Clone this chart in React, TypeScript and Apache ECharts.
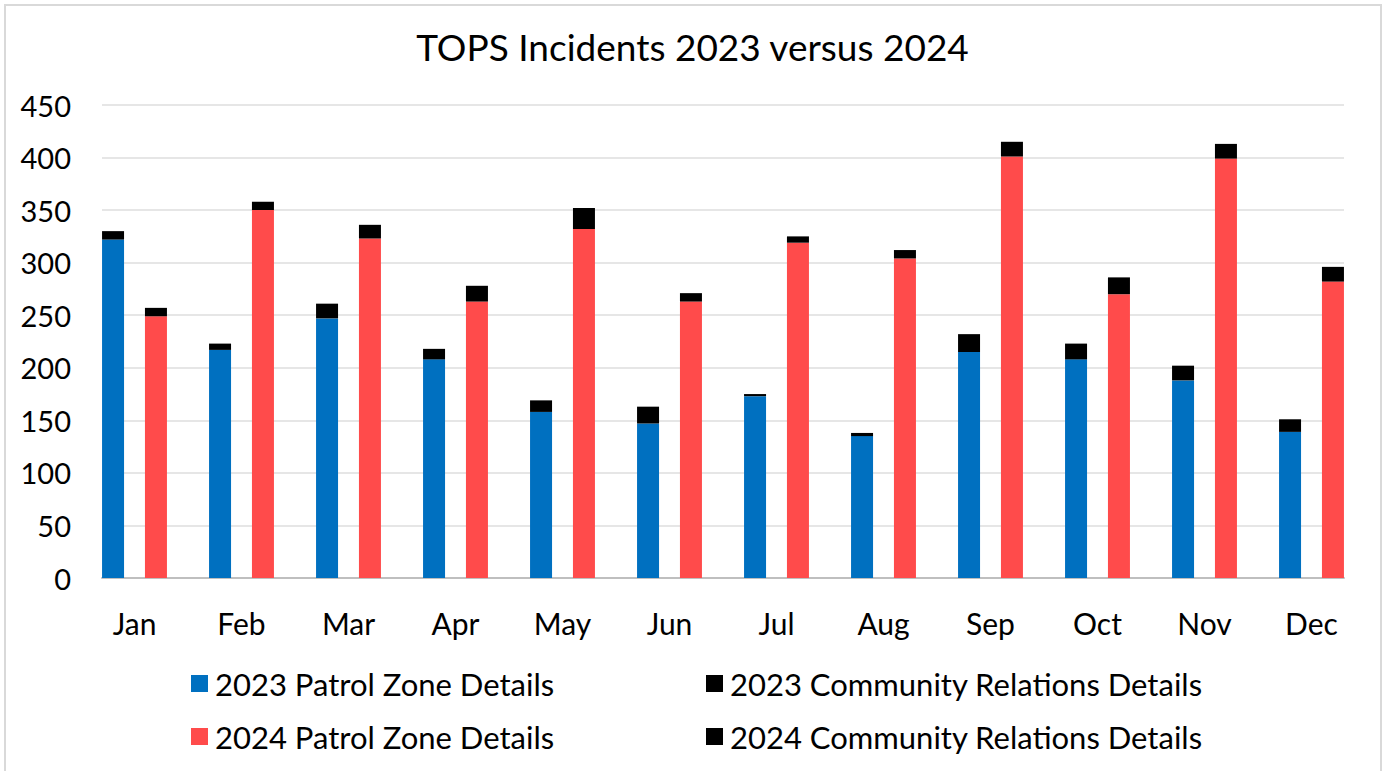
import React, { useEffect, useRef } from "react";
import * as echarts from "echarts";

const months = ["Jan", "Feb", "Mar", "Apr", "May", "Jun", "Jul", "Aug", "Sep", "Oct", "Nov", "Dec"];
const patrol2023 = [322, 217, 247, 208, 158, 147, 173, 135, 215, 208, 188, 139];
const community2023 = [8, 6, 14, 10, 11, 16, 2, 3, 17, 15, 14, 12];
const patrol2024 = [249, 350, 323, 263, 332, 263, 319, 304, 401, 270, 399, 282];
const community2024 = [8, 8, 13, 15, 20, 8, 6, 8, 14, 16, 14, 14];
const yTicks = { min: 0, max: 450, interval: 50 };

const FONT = "Lato, 'Open Sans', sans-serif";

export default function App() {
  const ref = useRef<HTMLDivElement>(null);
  useEffect(() => {
    if (!ref.current) return;
    const chart = echarts.init(ref.current, undefined, { renderer: "svg" });
    const names = [
      "2023 Patrol Zone Details",
      "2023 Community Relations Details",
      "2024 Patrol Zone Details",
      "2024 Community Relations Details",
    ];
    const legendBase = {
      icon: "rect",
      itemWidth: 17,
      itemHeight: 17,
      itemGap: 0,
      selectedMode: false,
      textStyle: { fontFamily: FONT, fontSize: 31, color: "#000", padding: [0, 0, 0, 2] },
    };
    chart.setOption({
      animation: false,
      backgroundColor: "#fff",
      title: {
        text: "TOPS Incidents 2023 versus 2024",
        left: "center",
        top: 23,
        textStyle: { fontFamily: FONT, fontSize: 37, fontWeight: "normal", color: "#000" },
      },
      legend: [
        { ...legendBase, data: [names[0]], left: 186, top: 663 },
        { ...legendBase, data: [names[1]], left: 701, top: 663 },
        { ...legendBase, data: [names[2]], left: 186, top: 716 },
        { ...legendBase, data: [names[3]], left: 701, top: 716 },
      ],
      grid: [
        { left: 81, width: 1284, top: 105, bottom: 193, containLabel: false },
        { left: 102, width: 1242, top: 105, bottom: 193, containLabel: false },
      ],
      xAxis: [
        {
          type: "category",
          gridIndex: 0,
          data: months,
          axisLine: { show: false },
          axisTick: { show: false },
          axisLabel: { fontFamily: FONT, fontSize: 30, color: "#000", margin: 30 },
        },
        {
          type: "value",
          gridIndex: 1,
          min: 0,
          max: 1,
          axisLine: { show: true, lineStyle: { color: "#bfbfbf", width: 2 } },
          axisTick: { show: false },
          axisLabel: { show: false },
          splitLine: { show: false },
        },
      ],
      yAxis: [
        {
          type: "value",
          gridIndex: 0,
          ...yTicks,
          axisLabel: { show: false },
          axisLine: { show: false },
          axisTick: { show: false },
          splitLine: { show: false },
        },
        {
          type: "value",
          gridIndex: 1,
          ...yTicks,
          axisLine: { show: false },
          axisTick: { show: false },
          axisLabel: { fontFamily: FONT, fontSize: 29, color: "#000", margin: 31 },
          splitLine: { show: true, lineStyle: { color: "#e6e6e6", width: 2 } },
        },
      ],
      series: [
        {
          name: names[0],
          type: "bar",
          stack: "y2023",
          data: patrol2023,
          barWidth: 22,
          barGap: "95%",
          itemStyle: { color: "#0070C0" },
        },
        {
          name: names[1],
          type: "bar",
          stack: "y2023",
          data: community2023,
          barWidth: 22,
          barGap: "95%",
          itemStyle: { color: "#000000" },
        },
        {
          name: names[2],
          type: "bar",
          stack: "y2024",
          data: patrol2024,
          barWidth: 22,
          barGap: "95%",
          itemStyle: { color: "#FF4B4B" },
        },
        {
          name: names[3],
          type: "bar",
          stack: "y2024",
          data: community2024,
          barWidth: 22,
          barGap: "95%",
          itemStyle: { color: "#000000" },
        },
      ],
    });
    return () => chart.dispose();
  }, []);
  return (
    <div
      style={{
        position: "fixed",
        left: 0,
        top: 0,
        width: 1385,
        height: 771,
        background: "#fff",
      }}
    >
      <div
        ref={ref}
        style={{ position: "absolute", left: 0, top: 0, width: 1385, height: 771 }}
      />
      <div
        style={{
          position: "absolute",
          left: 4,
          top: 4,
          width: 1378,
          height: 780,
          border: "2px solid #d9d9d9",
          boxSizing: "border-box",
          pointerEvents: "none",
        }}
      />
    </div>
  );
}
